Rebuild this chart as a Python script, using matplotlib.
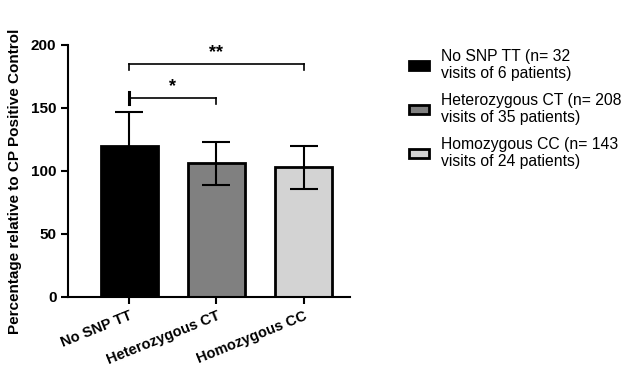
import matplotlib
matplotlib.use('Agg')
from matplotlib import pyplot as plt
from matplotlib.patches import Patch

plt.rcParams['font.family'] = ['Liberation Sans', 'DejaVu Sans']

# data
groups = ['No SNP TT', 'Heterozygous CT', 'Homozygous CC']
means = [120, 106, 103]
errors = [27, 17, 17]
colors = ['#000000', '#808080', '#d3d3d3']
legend_labels = ['No SNP TT (n= 32\nvisits of 6 patients)',
                 'Heterozygous CT (n= 208\nvisits of 35 patients)',
                 'Homozygous CC (n= 143\nvisits of 24 patients)']
# significance brackets: (left group, right group, height, label)
brackets = [(0, 1, 158, '*'), (0, 2, 185, '**')]

fig = plt.figure(figsize=(6.26, 3.68), dpi=100)
ax = fig.add_axes([0.109, 0.193, 0.45, 0.685])

x = list(range(len(groups)))
ax.bar(x, means, width=0.65, color=colors, edgecolor='black', linewidth=2, zorder=2)
ax.errorbar(x, means, yerr=errors, fmt='none', ecolor='black', elinewidth=1.5,
            capsize=10, capthick=1.5, zorder=3)

for left, right, h, label in brackets:
    ax.plot([left, right], [h, h], color='black', lw=1.2, clip_on=False)
    ax.plot([left, left], [h - 5, h + 5 if label == '*' else h], color='black',
            lw=2.2 if label == '*' else 1.2, clip_on=False)
    ax.plot([right, right], [h - 5, h], color='black', lw=1.2, clip_on=False)
    ax.text((left + right) / 2, h + 2, label, ha='center', va='bottom',
            fontsize=13, fontweight='bold')

ax.set_xlim(-0.7, 2.53)
ax.set_ylim(0, 200)
ax.set_yticks([0, 50, 100, 150, 200])
ax.set_xticks(x)
ax.set_xticklabels(groups, rotation=22, ha='right', rotation_mode='anchor',
                   fontsize=10.5, fontweight='bold')
for lbl in ax.get_yticklabels():
    lbl.set_fontsize(11)
    lbl.set_fontweight('bold')
ax.set_ylabel('Percentage relative to CP Positive Control', fontsize=11,
              fontweight='bold', labelpad=6)
ax.yaxis.set_label_coords(-0.165, 0.46)
ax.spines['top'].set_visible(False)
ax.spines['right'].set_visible(False)
ax.spines['left'].set_linewidth(1.5)
ax.spines['bottom'].set_linewidth(1.5)
ax.tick_params(width=1.5, length=5)

handles = [Patch(facecolor=c, edgecolor='black', linewidth=2) for c in colors]
fig.legend(handles, legend_labels, loc='upper left', bbox_to_anchor=(0.643, 0.885),
           frameon=False, fontsize=11.3, handlelength=1.3, handleheight=0.5,
           labelspacing=0.75, handletextpad=0.75, borderaxespad=0)

fig.savefig('out.png', dpi=100)
